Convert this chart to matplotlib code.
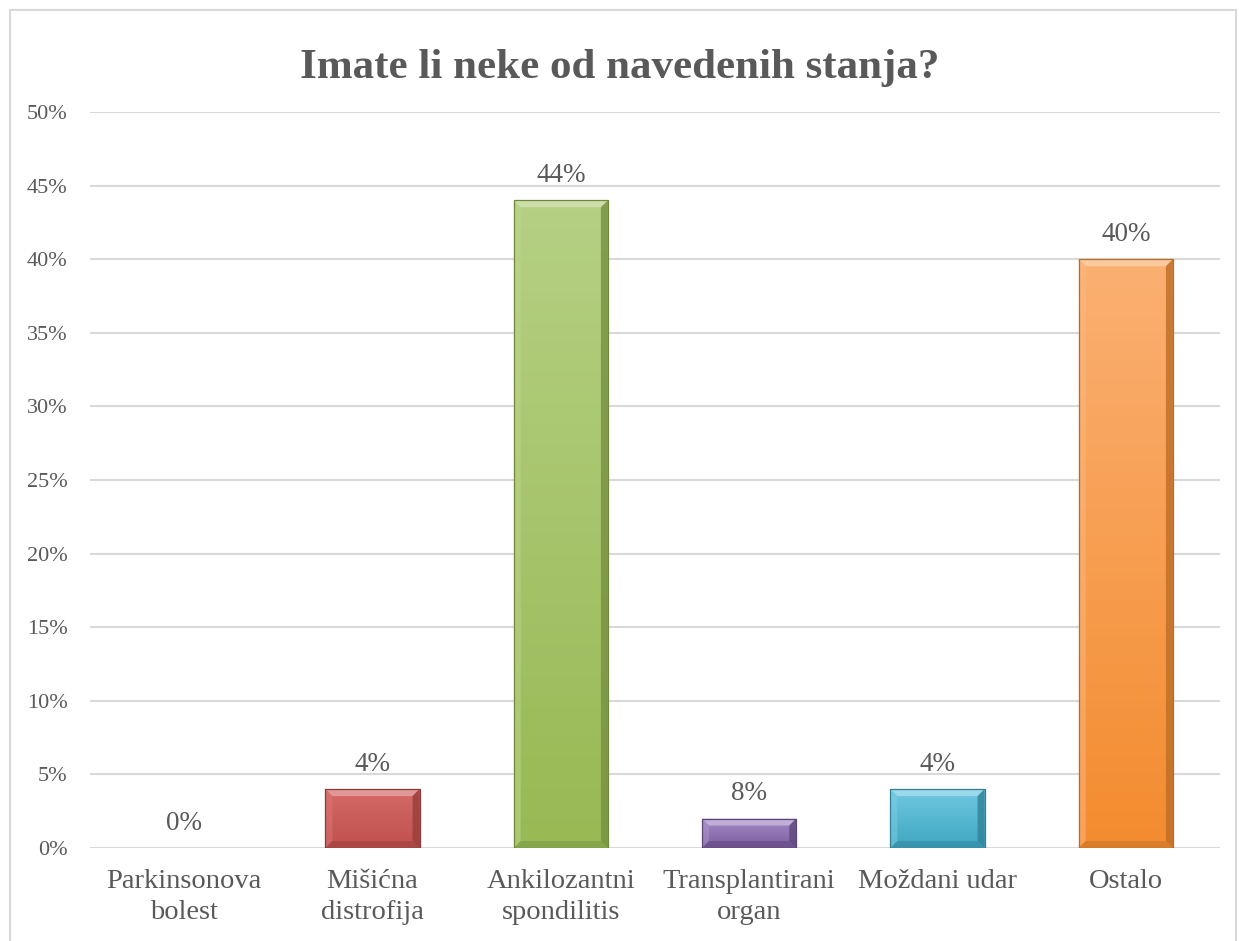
import numpy as np
import matplotlib.pyplot as plt
from matplotlib.colors import LinearSegmentedColormap, to_rgb
from matplotlib.patches import Polygon
from matplotlib.lines import Line2D

categories = ['Parkinsonova\nbolest', 'Mišićna\ndistrofija', 'Ankilozantni\nspondilitis',
              'Transplantirani\norgan', 'Moždani udar', 'Ostalo']
heights = [0, 4, 44, 2, 4, 40]
labels = ['0%', '4%', '44%', '8%', '4%', '40%']
top_col = ['#8fb4e3', '#d46a67', '#b5d083', '#a58bc7', '#6fc8e0', '#fbb072']
bot_col = ['#4f81bd', '#c0504d', '#98b954', '#7a5c9e', '#3fa6c2', '#f38c2f']
edge_col = ['#385d8a', '#8c3836', '#71893f', '#5c4776', '#357d91', '#b66d31']

plt.rcParams['font.family'] = ['Liberation Serif', 'DejaVu Serif']
txt = '#595959'


def mix(c, t, f):
    c = np.array(to_rgb(c))
    return tuple(c + (np.array(t) - c) * f)


fig = plt.figure(figsize=(12.39, 9.41), dpi=100)
ax = fig.add_axes([90/1239, 1-848/941, 1130/1239, (848-112)/941])

x = np.arange(len(categories))
w = 0.5
ax.set_xlim(-0.5, 5.5)
ax.set_ylim(0, 50)

# bevel size in data units (about 7 px)
bx = 7 * 6 / 1130
by = 7 * 50 / 736

for i, h in enumerate(heights):
    if h <= 0:
        continue
    l, r = x[i] - w/2, x[i] + w/2
    cmap = LinearSegmentedColormap.from_list('g', [bot_col[i], top_col[i]])
    grad = np.linspace(0, 1, 64).reshape(-1, 1)
    im = ax.imshow(grad, extent=[l, r, 0, h], origin='lower',
                   cmap=cmap, aspect='auto', zorder=3)
    bars = ax.bar(x[i], h, width=w, color='none', edgecolor=edge_col[i], linewidth=0.9, zorder=5)
    im.set_clip_path(bars[0])
    byy = min(by, h / 3)
    # bevel faces
    faces = [
        ([(l, h), (r, h), (r - bx, h - byy), (l + bx, h - byy)], mix(top_col[i], (1, 1, 1), 0.35), 0.9),
        ([(r, h), (r, 0), (r - bx, byy), (r - bx, h - byy)], mix(bot_col[i], (0, 0, 0), 0.22), 0.8),
        ([(l, h), (l, 0), (l + bx, byy), (l + bx, h - byy)], mix(top_col[i], (1, 1, 1), 0.1), 0.5),
        ([(l, 0), (r, 0), (r - bx, byy), (l + bx, byy)], mix(bot_col[i], (0, 0, 0), 0.15), 0.7),
    ]
    for pts, c, a in faces:
        ax.add_patch(Polygon(pts, closed=True, facecolor=c, edgecolor='none', alpha=a, zorder=4))

for i, lab in enumerate(labels):
    ax.annotate(lab, (x[i], heights[i]), xytext=(0, 9), textcoords='offset points',
                ha='center', va='bottom', fontsize=19.5, color=txt)

ax.set_yticks(np.arange(0, 51, 5))
ax.set_yticklabels([f'{v}%' for v in range(0, 51, 5)], fontsize=16, color=txt)
ax.set_xticks(x)
ax.set_xticklabels(categories, fontsize=20.5, color=txt, linespacing=1.3)
ax.tick_params(length=0)
ax.tick_params(axis='x', pad=15)
ax.tick_params(axis='y', pad=16)
ax.yaxis.grid(True, color='#d9d9d9', linewidth=1.5, zorder=0)
ax.set_axisbelow(True)
for s in ax.spines.values():
    s.set_visible(False)

fig.text(620/1239, 1-68/941, 'Imate li neke od navedenih stanja?', ha='center', va='center',
         fontsize=31, fontweight='bold', color=txt)

fc = '#d9d9d9'
fig.add_artist(Line2D([10/1239, 10/1239], [0, 1-10/941], color=fc, lw=1.5, transform=fig.transFigure))
fig.add_artist(Line2D([10/1239, 1236/1239], [1-10/941, 1-10/941], color=fc, lw=1.5, transform=fig.transFigure))
fig.add_artist(Line2D([1236/1239, 1236/1239], [0, 1-10/941], color=fc, lw=1.5, transform=fig.transFigure))

fig.savefig('out.png', dpi=100)
